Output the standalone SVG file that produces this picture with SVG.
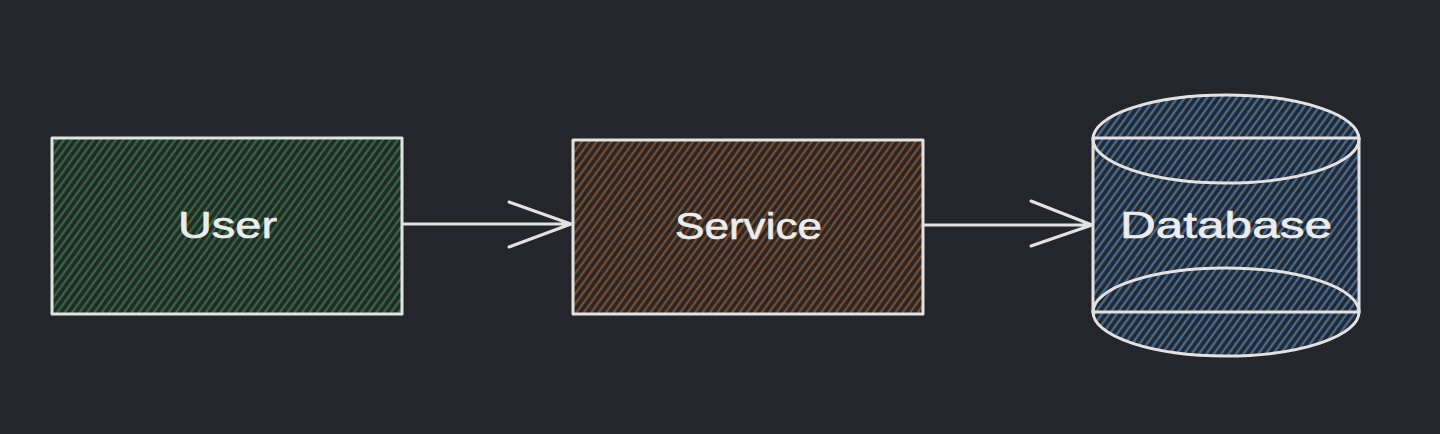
<svg xmlns="http://www.w3.org/2000/svg" width="1440" height="434" viewBox="0 0 1440 434">
  <defs>
    <pattern id="hGreen" patternUnits="userSpaceOnUse" width="6" height="10" patternTransform="rotate(36)">
      <line x1="2" y1="0" x2="2" y2="10" stroke="#2f6a3a" stroke-width="2.4"/>
    </pattern>
    <pattern id="hBrown" patternUnits="userSpaceOnUse" width="6" height="10" patternTransform="rotate(36)">
      <line x1="2" y1="0" x2="2" y2="10" stroke="#7a4c2b" stroke-width="2.4"/>
    </pattern>
    <pattern id="hBlue" patternUnits="userSpaceOnUse" width="6" height="10" patternTransform="rotate(36)">
      <line x1="2" y1="0" x2="2" y2="10" stroke="#426b96" stroke-width="2.4"/>
    </pattern>
    <style>
      .outline { fill: none; stroke: #e2e2e2; stroke-width: 3; stroke-linejoin: round; stroke-linecap: round; }
      .label { font-family: "Liberation Sans", "DejaVu Sans", sans-serif; font-size: 36px; fill: #ececec; stroke: #ececec; stroke-width: 0.6; text-anchor: start; }
      .conn { fill: none; stroke: #e2e2e2; stroke-width: 3; stroke-linecap: round; stroke-linejoin: round; }
    </style>
  </defs>
  <rect x="0" y="0" width="1440" height="434" fill="#25262b"/>

  <g id="user">
    <rect x="52" y="138" width="350" height="176" fill="url(#hGreen)"/>
    <rect x="52" y="138" width="350" height="176" class="outline"/>
    <text class="label" x="178" y="238" textLength="99" lengthAdjust="spacingAndGlyphs">User</text>
  </g>

  <g id="service">
    <rect x="573" y="140" width="350" height="174" fill="url(#hBrown)"/>
    <rect x="573" y="140" width="350" height="174" class="outline"/>
    <text class="label" x="675" y="239" textLength="147" lengthAdjust="spacingAndGlyphs">Service</text>
  </g>

  <g id="database">
    <path d="M1093,138 A133,44 0 0 1 1359,138 L1359,312 A133,44 0 0 1 1093,312 Z" fill="url(#hBlue)"/>
    <ellipse cx="1226" cy="139" rx="133" ry="44" class="outline"/>
    <line x1="1093" y1="138" x2="1359" y2="138" class="outline"/>
    <ellipse cx="1226" cy="312" rx="133" ry="44" class="outline"/>
    <line x1="1093" y1="312" x2="1359" y2="312" class="outline"/>
    <line x1="1093" y1="139" x2="1093" y2="312" class="outline"/>
    <line x1="1359" y1="139" x2="1359" y2="312" class="outline"/>
    <text class="label" x="1120" y="238" textLength="212" lengthAdjust="spacingAndGlyphs">Database</text>
  </g>

  <g id="connectors">
    <path class="conn" d="M403,224 L571,224 M509,202 L571,224 L509,247"/>
    <path class="conn" d="M924,225 L1092,225 M1031,201 L1092,225 L1031,246"/>
  </g>
</svg>
